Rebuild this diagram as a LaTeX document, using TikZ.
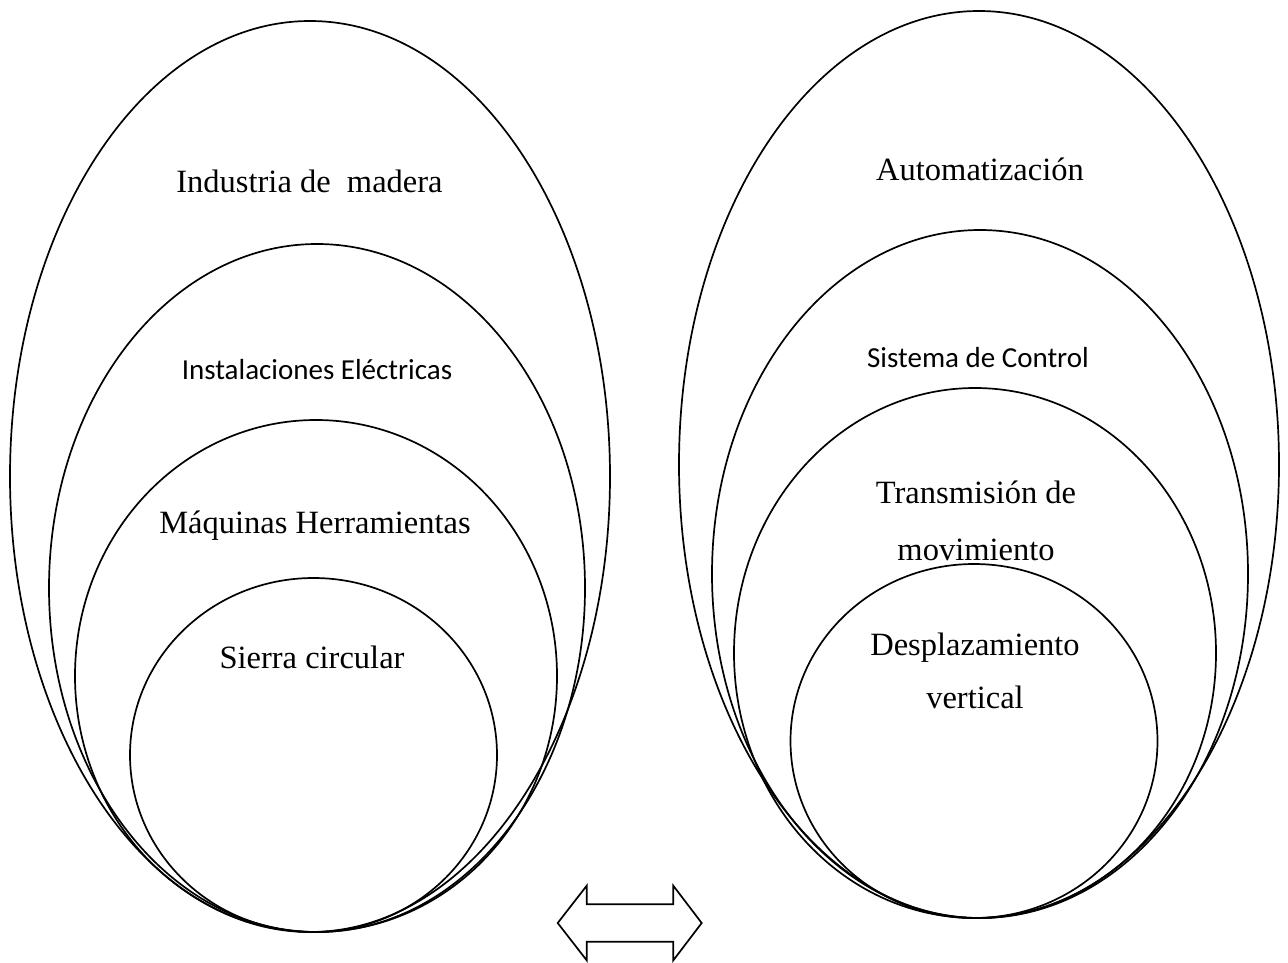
\documentclass[tikz,border=0pt]{standalone}
\usepackage{fontspec}
\setmainfont{Liberation Serif}
\newfontfamily\calibri{Carlito}
\begin{document}
\begin{tikzpicture}[x=1pt,y=-1pt,
  ring/.style={draw=black,line width=1.7pt},
  serif/.style={font=\fontsize{32.5}{55}\selectfont,anchor=base,inner sep=0pt,align=center},
  sans/.style={font=\calibri\fontsize{29}{35}\selectfont,anchor=base,inner sep=0pt}]
\useasboundingbox (0,0) rectangle (1288,962);
% left group
\draw[ring] (310,476.5) ellipse [x radius=300,y radius=455.5];
\draw[ring] (317,588) ellipse [x radius=268,y radius=344];
\draw[ring] (316,676) ellipse [x radius=241,y radius=256];
\draw[ring] (313.5,755) ellipse [x radius=183.5,y radius=177];
% right group
\draw[ring] (979,464.5) ellipse [x radius=300,y radius=453.5];
\draw[ring] (980,574) ellipse [x radius=268,y radius=344];
\draw[ring] (975,653) ellipse [x radius=241,y radius=265];
\draw[ring] (974,741) ellipse [x radius=183.5,y radius=177];
% labels
\node[serif] (t1) at (309.5,192) {Industria de\ \ madera};
\node[sans]  (t2) at (317,379) {Instalaciones Eléctricas};
\node[serif] (t3) at (315,533) {Máquinas Herramientas};
\node[serif] (t4) at (312,668) {Sierra circular};
\node[serif] (r1) at (980,180) {Automatización};
\node[sans]  (r2) at (978,367) {Sistema de Control};
\node[serif] (r3) at (976,503) {Transmisión de};
\node[serif] (r3b) at (976,560) {movimiento};
\node[serif] (r4) at (975,655) {Desplazamiento};
\node[serif] (r4b) at (975,708) {vertical};
% double arrow
\draw[line width=1.7pt,line join=miter] (557.7,923) -- (586.7,885.7) -- (586.7,904.3) -- (673.3,904.3) -- (673.3,885.7) -- (701.7,923) -- (673.3,960.3) -- (673.3,941.7) -- (586.7,941.7) -- (586.7,960.3) -- cycle;
\end{tikzpicture}
\end{document}
